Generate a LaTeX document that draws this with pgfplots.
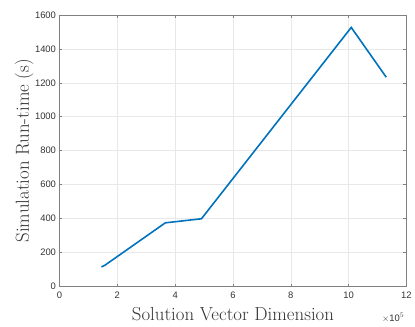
\documentclass[border=0pt]{standalone}
\usepackage{fontspec}
\usepackage{pgfplots}
\pgfplotsset{compat=1.18}
\newfontfamily\hv{Liberation Sans}
\definecolor{mline}{rgb}{0,0.447,0.741}
\definecolor{mframe}{HTML}{808080}
\definecolor{mtick}{HTML}{333333}
\begin{document}
\begin{tikzpicture}
\begin{axis}[
  scale only axis,
  clip=false,
  width=350pt, height=274pt,
  xmin=0, xmax=1200000, ymin=0, ymax=1600,
  scaled x ticks=false,
  xtick={0,200000,400000,600000,800000,1000000,1200000},
  xticklabels={0,2,4,6,8,10,12},
  ytick={0,200,...,1600},
  tick align=inside,
  major tick length=3pt,
  axis line style={mframe, line width=0.5pt},
  every tick/.style={mframe, line width=0.5pt},
  grid=major,
  major grid style={gray!18, line width=0.5pt},
  ticklabel style={font=\hv\fontsize{9.5}{10}\selectfont, text=mtick},
  xticklabel style={yshift=-2pt},
  yticklabel style={/pgf/number format/assume math mode=true, /pgf/number format/set thousands separator={}},
  xlabel={Solution Vector Dimension},
  ylabel={Simulation Run-time (s)},
  label style={font=\fontsize{19}{20}\selectfont, text=black!80},
  xlabel style={yshift=-4pt, inner sep=1pt},
  ylabel style={yshift=-3pt, inner sep=1pt},
]
\addplot[mline, line width=1.6pt, mark=none] coordinates {
  (145000,116) (156000,124) (366000,375) (491000,399) (1009000,1526) (1130000,1233)
};
\node[anchor=north east, font=\hv\fontsize{9.5}{10}\selectfont, text=mtick, inner sep=0pt] at ([yshift=-27pt,xshift=-2pt]rel axis cs:1,0) {$\times$10$^{5}$};
\end{axis}
\path (current axis.south west) ++(-60pt,-40pt) rectangle ++(415pt,329pt);
\end{tikzpicture}
\end{document}
